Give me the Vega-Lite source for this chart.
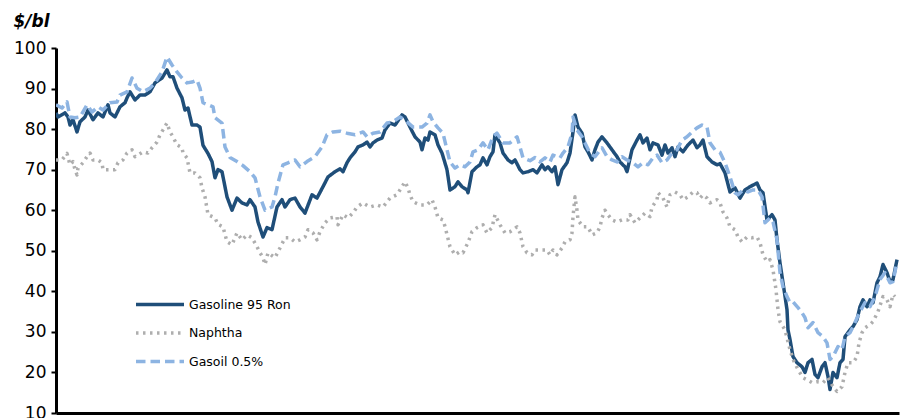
{
  "$schema": "https://vega.github.io/schema/vega-lite/v6.json",
  "width": 843,
  "height": 365,
  "autosize": {"type": "none"},
  "padding": {"left": 56, "top": 48, "right": 2, "bottom": 5},
  "background": "white",
  "config": {"view": {"stroke": null}, "font": "DejaVu Sans"},
  "data": {"values": [
    {"series":"Gasoline 95 Ron","day":0,"price":84},{"series":"Gasoline 95 Ron","day":2,"price":83},{"series":"Gasoline 95 Ron","day":9,"price":84},{"series":"Gasoline 95 Ron","day":12,"price":83},{"series":"Gasoline 95 Ron","day":14,"price":81},{"series":"Gasoline 95 Ron","day":17,"price":82.3},{"series":"Gasoline 95 Ron","day":21,"price":79.3},{"series":"Gasoline 95 Ron","day":24,"price":81.8},{"series":"Gasoline 95 Ron","day":29,"price":83},{"series":"Gasoline 95 Ron","day":32,"price":84.7},{"series":"Gasoline 95 Ron","day":37,"price":82.3},{"series":"Gasoline 95 Ron","day":42,"price":84},{"series":"Gasoline 95 Ron","day":47,"price":83},{"series":"Gasoline 95 Ron","day":52,"price":86},{"series":"Gasoline 95 Ron","day":54,"price":84},{"series":"Gasoline 95 Ron","day":59,"price":83},{"series":"Gasoline 95 Ron","day":64,"price":85.5},{"series":"Gasoline 95 Ron","day":69,"price":86.5},{"series":"Gasoline 95 Ron","day":71,"price":87.7},{"series":"Gasoline 95 Ron","day":74,"price":89.2},{"series":"Gasoline 95 Ron","day":79,"price":87.2},{"series":"Gasoline 95 Ron","day":84,"price":88.4},{"series":"Gasoline 95 Ron","day":89,"price":88.4},{"series":"Gasoline 95 Ron","day":94,"price":89.2},{"series":"Gasoline 95 Ron","day":99,"price":91.4},{"series":"Gasoline 95 Ron","day":106,"price":92.6},{"series":"Gasoline 95 Ron","day":111,"price":94.6},{"series":"Gasoline 95 Ron","day":114,"price":92.9},{"series":"Gasoline 95 Ron","day":117,"price":92.9},{"series":"Gasoline 95 Ron","day":121,"price":90.1},{"series":"Gasoline 95 Ron","day":126,"price":87.7},{"series":"Gasoline 95 Ron","day":129,"price":84.7},{"series":"Gasoline 95 Ron","day":132,"price":85.2},{"series":"Gasoline 95 Ron","day":136,"price":81},{"series":"Gasoline 95 Ron","day":141,"price":81},{"series":"Gasoline 95 Ron","day":144,"price":80.5},{"series":"Gasoline 95 Ron","day":147,"price":76},{"series":"Gasoline 95 Ron","day":152,"price":74},{"series":"Gasoline 95 Ron","day":156,"price":72},{"series":"Gasoline 95 Ron","day":159,"price":68},{"series":"Gasoline 95 Ron","day":162,"price":70},{"series":"Gasoline 95 Ron","day":166,"price":69.5},{"series":"Gasoline 95 Ron","day":171,"price":63.3},{"series":"Gasoline 95 Ron","day":176,"price":60},{"series":"Gasoline 95 Ron","day":181,"price":63},{"series":"Gasoline 95 Ron","day":186,"price":61.8},{"series":"Gasoline 95 Ron","day":191,"price":61.3},{"series":"Gasoline 95 Ron","day":194,"price":62.6},{"series":"Gasoline 95 Ron","day":199,"price":60.8},{"series":"Gasoline 95 Ron","day":202,"price":57.1},{"series":"Gasoline 95 Ron","day":207,"price":53.4},{"series":"Gasoline 95 Ron","day":211,"price":55.7},{"series":"Gasoline 95 Ron","day":216,"price":55.2},{"series":"Gasoline 95 Ron","day":221,"price":60.8},{"series":"Gasoline 95 Ron","day":226,"price":62.6},{"series":"Gasoline 95 Ron","day":229,"price":60.8},{"series":"Gasoline 95 Ron","day":234,"price":62.6},{"series":"Gasoline 95 Ron","day":239,"price":63},{"series":"Gasoline 95 Ron","day":244,"price":60.8},{"series":"Gasoline 95 Ron","day":249,"price":59.3},{"series":"Gasoline 95 Ron","day":256,"price":63.8},{"series":"Gasoline 95 Ron","day":261,"price":63},{"series":"Gasoline 95 Ron","day":267,"price":65.8},{"series":"Gasoline 95 Ron","day":272,"price":68.2},{"series":"Gasoline 95 Ron","day":279,"price":69.5},{"series":"Gasoline 95 Ron","day":284,"price":70.2},{"series":"Gasoline 95 Ron","day":287,"price":69.5},{"series":"Gasoline 95 Ron","day":291,"price":71.7},{"series":"Gasoline 95 Ron","day":294,"price":72.9},{"series":"Gasoline 95 Ron","day":299,"price":74.4},{"series":"Gasoline 95 Ron","day":302,"price":75.6},{"series":"Gasoline 95 Ron","day":307,"price":76.1},{"series":"Gasoline 95 Ron","day":311,"price":76.8},{"series":"Gasoline 95 Ron","day":314,"price":75.6},{"series":"Gasoline 95 Ron","day":317,"price":76.6},{"series":"Gasoline 95 Ron","day":321,"price":77.3},{"series":"Gasoline 95 Ron","day":326,"price":77.8},{"series":"Gasoline 95 Ron","day":329,"price":79.8},{"series":"Gasoline 95 Ron","day":334,"price":81.5},{"series":"Gasoline 95 Ron","day":339,"price":81},{"series":"Gasoline 95 Ron","day":346,"price":83.5},{"series":"Gasoline 95 Ron","day":349,"price":83},{"series":"Gasoline 95 Ron","day":354,"price":80.5},{"series":"Gasoline 95 Ron","day":359,"price":78.1},{"series":"Gasoline 95 Ron","day":364,"price":76.8},{"series":"Gasoline 95 Ron","day":366,"price":74.9},{"series":"Gasoline 95 Ron","day":369,"price":77.8},{"series":"Gasoline 95 Ron","day":372,"price":77.3},{"series":"Gasoline 95 Ron","day":374,"price":79.3},{"series":"Gasoline 95 Ron","day":379,"price":78.6},{"series":"Gasoline 95 Ron","day":382,"price":76.1},{"series":"Gasoline 95 Ron","day":386,"price":74.1},{"series":"Gasoline 95 Ron","day":391,"price":70},{"series":"Gasoline 95 Ron","day":394,"price":65},{"series":"Gasoline 95 Ron","day":399,"price":65.8},{"series":"Gasoline 95 Ron","day":402,"price":67},{"series":"Gasoline 95 Ron","day":406,"price":65.8},{"series":"Gasoline 95 Ron","day":411,"price":65},{"series":"Gasoline 95 Ron","day":412,"price":64.3},{"series":"Gasoline 95 Ron","day":416,"price":69.5},{"series":"Gasoline 95 Ron","day":421,"price":70.7},{"series":"Gasoline 95 Ron","day":424,"price":71.2},{"series":"Gasoline 95 Ron","day":427,"price":72.9},{"series":"Gasoline 95 Ron","day":431,"price":71.2},{"series":"Gasoline 95 Ron","day":434,"price":73.2},{"series":"Gasoline 95 Ron","day":437,"price":74.4},{"series":"Gasoline 95 Ron","day":439,"price":78.6},{"series":"Gasoline 95 Ron","day":444,"price":76.6},{"series":"Gasoline 95 Ron","day":447,"price":74.1},{"series":"Gasoline 95 Ron","day":452,"price":72.4},{"series":"Gasoline 95 Ron","day":456,"price":71.7},{"series":"Gasoline 95 Ron","day":459,"price":72.4},{"series":"Gasoline 95 Ron","day":464,"price":70},{"series":"Gasoline 95 Ron","day":467,"price":69.2},{"series":"Gasoline 95 Ron","day":472,"price":69.5},{"series":"Gasoline 95 Ron","day":477,"price":70},{"series":"Gasoline 95 Ron","day":481,"price":69.2},{"series":"Gasoline 95 Ron","day":486,"price":71.2},{"series":"Gasoline 95 Ron","day":489,"price":70},{"series":"Gasoline 95 Ron","day":492,"price":70.7},{"series":"Gasoline 95 Ron","day":496,"price":69.5},{"series":"Gasoline 95 Ron","day":499,"price":70.7},{"series":"Gasoline 95 Ron","day":502,"price":66.3},{"series":"Gasoline 95 Ron","day":506,"price":70},{"series":"Gasoline 95 Ron","day":511,"price":71.7},{"series":"Gasoline 95 Ron","day":514,"price":74.1},{"series":"Gasoline 95 Ron","day":517,"price":79.3},{"series":"Gasoline 95 Ron","day":519,"price":83.5},{"series":"Gasoline 95 Ron","day":522,"price":80.5},{"series":"Gasoline 95 Ron","day":526,"price":79},{"series":"Gasoline 95 Ron","day":529,"price":75.6},{"series":"Gasoline 95 Ron","day":532,"price":74.4},{"series":"Gasoline 95 Ron","day":536,"price":72.4},{"series":"Gasoline 95 Ron","day":539,"price":74.9},{"series":"Gasoline 95 Ron","day":542,"price":76.8},{"series":"Gasoline 95 Ron","day":546,"price":78.1},{"series":"Gasoline 95 Ron","day":551,"price":76.6},{"series":"Gasoline 95 Ron","day":556,"price":74.9},{"series":"Gasoline 95 Ron","day":561,"price":73.2},{"series":"Gasoline 95 Ron","day":564,"price":71.9},{"series":"Gasoline 95 Ron","day":569,"price":70.7},{"series":"Gasoline 95 Ron","day":571,"price":69.5},{"series":"Gasoline 95 Ron","day":576,"price":74.9},{"series":"Gasoline 95 Ron","day":581,"price":77.3},{"series":"Gasoline 95 Ron","day":584,"price":78.6},{"series":"Gasoline 95 Ron","day":587,"price":76.6},{"series":"Gasoline 95 Ron","day":591,"price":77.8},{"series":"Gasoline 95 Ron","day":594,"price":74.9},{"series":"Gasoline 95 Ron","day":597,"price":76.6},{"series":"Gasoline 95 Ron","day":602,"price":76.1},{"series":"Gasoline 95 Ron","day":606,"price":73.6},{"series":"Gasoline 95 Ron","day":609,"price":76.1},{"series":"Gasoline 95 Ron","day":612,"price":74.1},{"series":"Gasoline 95 Ron","day":616,"price":75.4},{"series":"Gasoline 95 Ron","day":619,"price":73.2},{"series":"Gasoline 95 Ron","day":622,"price":75.6},{"series":"Gasoline 95 Ron","day":627,"price":74.4},{"series":"Gasoline 95 Ron","day":632,"price":76.1},{"series":"Gasoline 95 Ron","day":637,"price":77.3},{"series":"Gasoline 95 Ron","day":641,"price":75.4},{"series":"Gasoline 95 Ron","day":644,"price":76.1},{"series":"Gasoline 95 Ron","day":647,"price":77.3},{"series":"Gasoline 95 Ron","day":651,"price":73.2},{"series":"Gasoline 95 Ron","day":656,"price":71.9},{"series":"Gasoline 95 Ron","day":661,"price":71.2},{"series":"Gasoline 95 Ron","day":664,"price":71.5},{"series":"Gasoline 95 Ron","day":669,"price":69.2},{"series":"Gasoline 95 Ron","day":674,"price":64.5},{"series":"Gasoline 95 Ron","day":679,"price":65.5},{"series":"Gasoline 95 Ron","day":684,"price":63},{"series":"Gasoline 95 Ron","day":689,"price":65},{"series":"Gasoline 95 Ron","day":694,"price":65.8},{"series":"Gasoline 95 Ron","day":701,"price":66.7},{"series":"Gasoline 95 Ron","day":704,"price":65},{"series":"Gasoline 95 Ron","day":707,"price":64.3},{"series":"Gasoline 95 Ron","day":711,"price":57.6},{"series":"Gasoline 95 Ron","day":716,"price":58.9},{"series":"Gasoline 95 Ron","day":719,"price":57.6},{"series":"Gasoline 95 Ron","day":721,"price":52.7},{"series":"Gasoline 95 Ron","day":724,"price":47},{"series":"Gasoline 95 Ron","day":727,"price":42.1},{"series":"Gasoline 95 Ron","day":731,"price":35.5},{"series":"Gasoline 95 Ron","day":732,"price":30.5},{"series":"Gasoline 95 Ron","day":734,"price":28.1},{"series":"Gasoline 95 Ron","day":737,"price":23.9},{"series":"Gasoline 95 Ron","day":741,"price":22.4},{"series":"Gasoline 95 Ron","day":746,"price":21.4},{"series":"Gasoline 95 Ron","day":749,"price":20},{"series":"Gasoline 95 Ron","day":752,"price":22.4},{"series":"Gasoline 95 Ron","day":756,"price":23.2},{"series":"Gasoline 95 Ron","day":759,"price":19.5},{"series":"Gasoline 95 Ron","day":762,"price":18.7},{"series":"Gasoline 95 Ron","day":766,"price":21.4},{"series":"Gasoline 95 Ron","day":769,"price":22.4},{"series":"Gasoline 95 Ron","day":772,"price":19},{"series":"Gasoline 95 Ron","day":774,"price":15.8},{"series":"Gasoline 95 Ron","day":777,"price":20},{"series":"Gasoline 95 Ron","day":781,"price":18.7},{"series":"Gasoline 95 Ron","day":784,"price":22.4},{"series":"Gasoline 95 Ron","day":787,"price":23.2},{"series":"Gasoline 95 Ron","day":789,"price":28.8},{"series":"Gasoline 95 Ron","day":794,"price":30.5},{"series":"Gasoline 95 Ron","day":797,"price":31.3},{"series":"Gasoline 95 Ron","day":801,"price":33},{"series":"Gasoline 95 Ron","day":804,"price":36.2},{"series":"Gasoline 95 Ron","day":807,"price":37.9},{"series":"Gasoline 95 Ron","day":811,"price":36.2},{"series":"Gasoline 95 Ron","day":814,"price":37.9},{"series":"Gasoline 95 Ron","day":817,"price":37.2},{"series":"Gasoline 95 Ron","day":821,"price":42.1},{"series":"Gasoline 95 Ron","day":824,"price":43.6},{"series":"Gasoline 95 Ron","day":827,"price":46.6},{"series":"Gasoline 95 Ron","day":831,"price":44.6},{"series":"Gasoline 95 Ron","day":834,"price":42.4},{"series":"Gasoline 95 Ron","day":837,"price":42.9},{"series":"Gasoline 95 Ron","day":841,"price":47.8},
    {"series":"Naphtha","day":0,"price":72.4},{"series":"Naphtha","day":6,"price":72.4},{"series":"Naphtha","day":11,"price":74},{"series":"Naphtha","day":14,"price":71.2},{"series":"Naphtha","day":17,"price":72},{"series":"Naphtha","day":19,"price":70},{"series":"Naphtha","day":21,"price":68.7},{"series":"Naphtha","day":22,"price":70.4},{"series":"Naphtha","day":27,"price":71.7},{"series":"Naphtha","day":31,"price":73.2},{"series":"Naphtha","day":34,"price":74.1},{"series":"Naphtha","day":37,"price":72.4},{"series":"Naphtha","day":42,"price":72.4},{"series":"Naphtha","day":46,"price":71.7},{"series":"Naphtha","day":47,"price":70},{"series":"Naphtha","day":52,"price":70},{"series":"Naphtha","day":59,"price":70},{"series":"Naphtha","day":62,"price":71.7},{"series":"Naphtha","day":67,"price":72.4},{"series":"Naphtha","day":71,"price":74.1},{"series":"Naphtha","day":76,"price":74.9},{"series":"Naphtha","day":79,"price":73.2},{"series":"Naphtha","day":82,"price":73.6},{"series":"Naphtha","day":87,"price":74.4},{"series":"Naphtha","day":92,"price":74.1},{"series":"Naphtha","day":96,"price":75.4},{"series":"Naphtha","day":101,"price":76.8},{"series":"Naphtha","day":104,"price":78.6},{"series":"Naphtha","day":107,"price":79.8},{"series":"Naphtha","day":111,"price":81.5},{"series":"Naphtha","day":114,"price":79.3},{"series":"Naphtha","day":117,"price":78.1},{"series":"Naphtha","day":121,"price":76.1},{"series":"Naphtha","day":126,"price":75.4},{"series":"Naphtha","day":127,"price":74.1},{"series":"Naphtha","day":131,"price":72.9},{"series":"Naphtha","day":134,"price":69.2},{"series":"Naphtha","day":139,"price":69.2},{"series":"Naphtha","day":144,"price":68},{"series":"Naphtha","day":146,"price":65.5},{"series":"Naphtha","day":149,"price":63.3},{"series":"Naphtha","day":152,"price":58.9},{"series":"Naphtha","day":159,"price":58.1},{"series":"Naphtha","day":162,"price":56.5},{"series":"Naphtha","day":167,"price":55.9},{"series":"Naphtha","day":171,"price":52.2},{"series":"Naphtha","day":176,"price":51.5},{"series":"Naphtha","day":181,"price":54.4},{"series":"Naphtha","day":186,"price":52.7},{"series":"Naphtha","day":191,"price":53.9},{"series":"Naphtha","day":196,"price":53.2},{"series":"Naphtha","day":201,"price":51},{"series":"Naphtha","day":204,"price":49.5},{"series":"Naphtha","day":207,"price":48.3},{"series":"Naphtha","day":209,"price":46.6},{"series":"Naphtha","day":212,"price":49.5},{"series":"Naphtha","day":219,"price":48.3},{"series":"Naphtha","day":224,"price":50.7},{"series":"Naphtha","day":229,"price":53.2},{"series":"Naphtha","day":234,"price":53.2},{"series":"Naphtha","day":239,"price":52.2},{"series":"Naphtha","day":244,"price":52.7},{"series":"Naphtha","day":249,"price":53.4},{"series":"Naphtha","day":252,"price":55.2},{"series":"Naphtha","day":257,"price":54.4},{"series":"Naphtha","day":261,"price":52.7},{"series":"Naphtha","day":264,"price":54.7},{"series":"Naphtha","day":269,"price":56.9},{"series":"Naphtha","day":274,"price":58.1},{"series":"Naphtha","day":281,"price":58.4},{"series":"Naphtha","day":282,"price":56.4},{"series":"Naphtha","day":287,"price":58.9},{"series":"Naphtha","day":292,"price":58.1},{"series":"Naphtha","day":297,"price":59.3},{"series":"Naphtha","day":301,"price":60.8},{"series":"Naphtha","day":307,"price":61.8},{"series":"Naphtha","day":314,"price":60.8},{"series":"Naphtha","day":321,"price":61.3},{"series":"Naphtha","day":327,"price":60.8},{"series":"Naphtha","day":334,"price":63},{"series":"Naphtha","day":341,"price":63.8},{"series":"Naphtha","day":346,"price":65.8},{"series":"Naphtha","day":349,"price":67},{"series":"Naphtha","day":352,"price":65.5},{"series":"Naphtha","day":354,"price":63.8},{"series":"Naphtha","day":357,"price":62.1},{"series":"Naphtha","day":364,"price":61.3},{"series":"Naphtha","day":371,"price":61.3},{"series":"Naphtha","day":376,"price":62.6},{"series":"Naphtha","day":379,"price":60.8},{"series":"Naphtha","day":382,"price":58.1},{"series":"Naphtha","day":387,"price":57.6},{"series":"Naphtha","day":389,"price":56},{"series":"Naphtha","day":392,"price":53},{"series":"Naphtha","day":394,"price":51},{"series":"Naphtha","day":399,"price":49},{"series":"Naphtha","day":404,"price":49.8},{"series":"Naphtha","day":407,"price":49.5},{"series":"Naphtha","day":412,"price":52},{"series":"Naphtha","day":416,"price":54.7},{"series":"Naphtha","day":421,"price":55.7},{"series":"Naphtha","day":427,"price":56.4},{"series":"Naphtha","day":431,"price":54.4},{"series":"Naphtha","day":436,"price":55.7},{"series":"Naphtha","day":439,"price":58.9},{"series":"Naphtha","day":444,"price":56.4},{"series":"Naphtha","day":449,"price":54.4},{"series":"Naphtha","day":454,"price":54.7},{"series":"Naphtha","day":461,"price":55.9},{"series":"Naphtha","day":464,"price":54.4},{"series":"Naphtha","day":467,"price":51},{"series":"Naphtha","day":471,"price":49.5},{"series":"Naphtha","day":476,"price":49},{"series":"Naphtha","day":479,"price":50.2},{"series":"Naphtha","day":486,"price":50.2},{"series":"Naphtha","day":491,"price":50.2},{"series":"Naphtha","day":494,"price":49},{"series":"Naphtha","day":497,"price":50.2},{"series":"Naphtha","day":501,"price":49},{"series":"Naphtha","day":506,"price":50.7},{"series":"Naphtha","day":509,"price":52.2},{"series":"Naphtha","day":514,"price":52.7},{"series":"Naphtha","day":516,"price":54.4},{"series":"Naphtha","day":517,"price":58.4},{"series":"Naphtha","day":519,"price":63.3},{"series":"Naphtha","day":521,"price":60},{"series":"Naphtha","day":522,"price":57.6},{"series":"Naphtha","day":527,"price":55.9},{"series":"Naphtha","day":532,"price":55.9},{"series":"Naphtha","day":536,"price":53.9},{"series":"Naphtha","day":541,"price":54.4},{"series":"Naphtha","day":544,"price":55.9},{"series":"Naphtha","day":546,"price":58.1},{"series":"Naphtha","day":549,"price":60},{"series":"Naphtha","day":552,"price":58.9},{"series":"Naphtha","day":556,"price":57.6},{"series":"Naphtha","day":561,"price":57.1},{"series":"Naphtha","day":566,"price":57.6},{"series":"Naphtha","day":572,"price":57.6},{"series":"Naphtha","day":574,"price":58.9},{"series":"Naphtha","day":579,"price":56.9},{"series":"Naphtha","day":584,"price":58.1},{"series":"Naphtha","day":589,"price":59.3},{"series":"Naphtha","day":594,"price":58.4},{"series":"Naphtha","day":596,"price":60.8},{"series":"Naphtha","day":601,"price":62.6},{"series":"Naphtha","day":602,"price":64.3},{"series":"Naphtha","day":607,"price":63},{"series":"Naphtha","day":611,"price":60.8},{"series":"Naphtha","day":614,"price":63.8},{"series":"Naphtha","day":619,"price":64.5},{"series":"Naphtha","day":624,"price":63.8},{"series":"Naphtha","day":627,"price":62.6},{"series":"Naphtha","day":632,"price":63.3},{"series":"Naphtha","day":637,"price":64.5},{"series":"Naphtha","day":641,"price":64.3},{"series":"Naphtha","day":644,"price":63},{"series":"Naphtha","day":647,"price":63.8},{"series":"Naphtha","day":651,"price":63},{"series":"Naphtha","day":654,"price":61.8},{"series":"Naphtha","day":661,"price":62.6},{"series":"Naphtha","day":664,"price":61.8},{"series":"Naphtha","day":667,"price":59.6},{"series":"Naphtha","day":671,"price":58.1},{"series":"Naphtha","day":674,"price":55.9},{"series":"Naphtha","day":679,"price":55.2},{"series":"Naphtha","day":682,"price":53.4},{"series":"Naphtha","day":686,"price":52.2},{"series":"Naphtha","day":691,"price":53.4},{"series":"Naphtha","day":696,"price":53.2},{"series":"Naphtha","day":701,"price":53.4},{"series":"Naphtha","day":704,"price":52},{"series":"Naphtha","day":707,"price":49},{"series":"Naphtha","day":711,"price":47.3},{"series":"Naphtha","day":714,"price":47.8},{"series":"Naphtha","day":717,"price":45.3},{"series":"Naphtha","day":720,"price":40.4},{"series":"Naphtha","day":722,"price":35.5},{"series":"Naphtha","day":724,"price":32.5},{"series":"Naphtha","day":729,"price":30.5},{"series":"Naphtha","day":734,"price":25.6},{"series":"Naphtha","day":737,"price":23.2},{"series":"Naphtha","day":742,"price":20.7},{"series":"Naphtha","day":747,"price":18.7},{"series":"Naphtha","day":751,"price":18.2},{"series":"Naphtha","day":756,"price":17.5},{"series":"Naphtha","day":761,"price":17.7},{"series":"Naphtha","day":767,"price":17.5},{"series":"Naphtha","day":772,"price":18.7},{"series":"Naphtha","day":777,"price":16.5},{"series":"Naphtha","day":781,"price":15.3},{"series":"Naphtha","day":786,"price":16.5},{"series":"Naphtha","day":789,"price":20},{"series":"Naphtha","day":792,"price":22.4},{"series":"Naphtha","day":797,"price":22.4},{"series":"Naphtha","day":801,"price":23.9},{"series":"Naphtha","day":803,"price":27.3},{"series":"Naphtha","day":806,"price":29.8},{"series":"Naphtha","day":809,"price":31},{"series":"Naphtha","day":814,"price":31.8},{"series":"Naphtha","day":817,"price":32.5},{"series":"Naphtha","day":822,"price":35},{"series":"Naphtha","day":827,"price":38.7},{"series":"Naphtha","day":831,"price":37.9},{"series":"Naphtha","day":834,"price":36.2},{"series":"Naphtha","day":837,"price":39.2},{"series":"Naphtha","day":839,"price":38.7},
    {"series":"Gasoil 0.5%","day":0,"price":86},{"series":"Gasoil 0.5%","day":6,"price":85.2},{"series":"Gasoil 0.5%","day":11,"price":86.7},{"series":"Gasoil 0.5%","day":14,"price":83},{"series":"Gasoil 0.5%","day":19,"price":82.8},{"series":"Gasoil 0.5%","day":24,"price":83},{"series":"Gasoil 0.5%","day":31,"price":86},{"series":"Gasoil 0.5%","day":36,"price":84.2},{"series":"Gasoil 0.5%","day":42,"price":85.5},{"series":"Gasoil 0.5%","day":47,"price":84.7},{"series":"Gasoil 0.5%","day":54,"price":86.5},{"series":"Gasoil 0.5%","day":61,"price":86.7},{"series":"Gasoil 0.5%","day":64,"price":88.4},{"series":"Gasoil 0.5%","day":71,"price":89.2},{"series":"Gasoil 0.5%","day":76,"price":92.6},{"series":"Gasoil 0.5%","day":81,"price":90.1},{"series":"Gasoil 0.5%","day":87,"price":89.2},{"series":"Gasoil 0.5%","day":94,"price":90.1},{"series":"Gasoil 0.5%","day":99,"price":91.4},{"series":"Gasoil 0.5%","day":106,"price":94.1},{"series":"Gasoil 0.5%","day":111,"price":97.8},{"series":"Gasoil 0.5%","day":116,"price":95.8},{"series":"Gasoil 0.5%","day":121,"price":94.1},{"series":"Gasoil 0.5%","day":126,"price":92.6},{"series":"Gasoil 0.5%","day":131,"price":91.4},{"series":"Gasoil 0.5%","day":136,"price":91.6},{"series":"Gasoil 0.5%","day":141,"price":92.1},{"series":"Gasoil 0.5%","day":144,"price":90.1},{"series":"Gasoil 0.5%","day":147,"price":86.5},{"series":"Gasoil 0.5%","day":152,"price":86},{"series":"Gasoil 0.5%","day":157,"price":85.5},{"series":"Gasoil 0.5%","day":159,"price":82.8},{"series":"Gasoil 0.5%","day":166,"price":81.5},{"series":"Gasoil 0.5%","day":169,"price":75.6},{"series":"Gasoil 0.5%","day":174,"price":73},{"series":"Gasoil 0.5%","day":181,"price":72},{"series":"Gasoil 0.5%","day":187,"price":71},{"series":"Gasoil 0.5%","day":194,"price":69.5},{"series":"Gasoil 0.5%","day":199,"price":68},{"series":"Gasoil 0.5%","day":204,"price":63.3},{"series":"Gasoil 0.5%","day":209,"price":60},{"series":"Gasoil 0.5%","day":216,"price":60.8},{"series":"Gasoil 0.5%","day":219,"price":63.3},{"series":"Gasoil 0.5%","day":222,"price":66.7},{"series":"Gasoil 0.5%","day":227,"price":71.2},{"series":"Gasoil 0.5%","day":232,"price":71.7},{"series":"Gasoil 0.5%","day":239,"price":72.4},{"series":"Gasoil 0.5%","day":244,"price":70.7},{"series":"Gasoil 0.5%","day":251,"price":72},{"series":"Gasoil 0.5%","day":259,"price":73.2},{"series":"Gasoil 0.5%","day":266,"price":75.6},{"series":"Gasoil 0.5%","day":271,"price":78.6},{"series":"Gasoil 0.5%","day":277,"price":79.3},{"series":"Gasoil 0.5%","day":284,"price":79.5},{"series":"Gasoil 0.5%","day":291,"price":79},{"series":"Gasoil 0.5%","day":299,"price":78.6},{"series":"Gasoil 0.5%","day":307,"price":79.3},{"series":"Gasoil 0.5%","day":311,"price":78.1},{"series":"Gasoil 0.5%","day":317,"price":79},{"series":"Gasoil 0.5%","day":324,"price":79.3},{"series":"Gasoil 0.5%","day":331,"price":81.5},{"series":"Gasoil 0.5%","day":337,"price":81.8},{"series":"Gasoil 0.5%","day":344,"price":83},{"series":"Gasoil 0.5%","day":351,"price":81.8},{"series":"Gasoil 0.5%","day":357,"price":80.5},{"series":"Gasoil 0.5%","day":366,"price":80.5},{"series":"Gasoil 0.5%","day":371,"price":81.5},{"series":"Gasoil 0.5%","day":374,"price":83.5},{"series":"Gasoil 0.5%","day":377,"price":81.8},{"series":"Gasoil 0.5%","day":382,"price":80.3},{"series":"Gasoil 0.5%","day":387,"price":79},{"series":"Gasoil 0.5%","day":391,"price":74.9},{"series":"Gasoil 0.5%","day":394,"price":71.9},{"series":"Gasoil 0.5%","day":399,"price":70.4},{"series":"Gasoil 0.5%","day":404,"price":71.2},{"series":"Gasoil 0.5%","day":409,"price":70.7},{"series":"Gasoil 0.5%","day":414,"price":71.9},{"series":"Gasoil 0.5%","day":417,"price":74.4},{"series":"Gasoil 0.5%","day":422,"price":74.9},{"series":"Gasoil 0.5%","day":427,"price":76.6},{"series":"Gasoil 0.5%","day":432,"price":74.9},{"series":"Gasoil 0.5%","day":437,"price":78.1},{"series":"Gasoil 0.5%","day":441,"price":79},{"series":"Gasoil 0.5%","day":447,"price":76.6},{"series":"Gasoil 0.5%","day":454,"price":76.6},{"series":"Gasoil 0.5%","day":461,"price":78.1},{"series":"Gasoil 0.5%","day":464,"price":75.6},{"series":"Gasoil 0.5%","day":467,"price":72.9},{"series":"Gasoil 0.5%","day":474,"price":72.2},{"series":"Gasoil 0.5%","day":479,"price":73},{"series":"Gasoil 0.5%","day":484,"price":71.9},{"series":"Gasoil 0.5%","day":489,"price":72.9},{"series":"Gasoil 0.5%","day":494,"price":71.9},{"series":"Gasoil 0.5%","day":497,"price":73.6},{"series":"Gasoil 0.5%","day":504,"price":72.9},{"series":"Gasoil 0.5%","day":507,"price":74.1},{"series":"Gasoil 0.5%","day":512,"price":75.6},{"series":"Gasoil 0.5%","day":516,"price":79},{"series":"Gasoil 0.5%","day":517,"price":83},{"series":"Gasoil 0.5%","day":521,"price":79.8},{"series":"Gasoil 0.5%","day":526,"price":78.1},{"series":"Gasoil 0.5%","day":529,"price":76.6},{"series":"Gasoil 0.5%","day":534,"price":74.1},{"series":"Gasoil 0.5%","day":539,"price":73.2},{"series":"Gasoil 0.5%","day":546,"price":75.4},{"series":"Gasoil 0.5%","day":551,"price":73.2},{"series":"Gasoil 0.5%","day":556,"price":72.4},{"series":"Gasoil 0.5%","day":561,"price":71.9},{"series":"Gasoil 0.5%","day":566,"price":73.2},{"series":"Gasoil 0.5%","day":571,"price":72.4},{"series":"Gasoil 0.5%","day":577,"price":71.7},{"series":"Gasoil 0.5%","day":582,"price":70.7},{"series":"Gasoil 0.5%","day":587,"price":71.7},{"series":"Gasoil 0.5%","day":592,"price":71.2},{"series":"Gasoil 0.5%","day":597,"price":72.9},{"series":"Gasoil 0.5%","day":601,"price":73.6},{"series":"Gasoil 0.5%","day":606,"price":71.7},{"series":"Gasoil 0.5%","day":611,"price":72.4},{"series":"Gasoil 0.5%","day":616,"price":74.1},{"series":"Gasoil 0.5%","day":621,"price":74.9},{"series":"Gasoil 0.5%","day":626,"price":77.3},{"series":"Gasoil 0.5%","day":631,"price":78.1},{"series":"Gasoil 0.5%","day":636,"price":79.3},{"series":"Gasoil 0.5%","day":641,"price":80.3},{"series":"Gasoil 0.5%","day":646,"price":81},{"series":"Gasoil 0.5%","day":651,"price":80.5},{"series":"Gasoil 0.5%","day":654,"price":76.6},{"series":"Gasoil 0.5%","day":659,"price":74.9},{"series":"Gasoil 0.5%","day":664,"price":74.3},{"series":"Gasoil 0.5%","day":669,"price":71.7},{"series":"Gasoil 0.5%","day":674,"price":68.2},{"series":"Gasoil 0.5%","day":679,"price":64.3},{"series":"Gasoil 0.5%","day":682,"price":63.8},{"series":"Gasoil 0.5%","day":687,"price":65},{"series":"Gasoil 0.5%","day":692,"price":64.5},{"series":"Gasoil 0.5%","day":697,"price":65},{"series":"Gasoil 0.5%","day":702,"price":65},{"series":"Gasoil 0.5%","day":706,"price":63.3},{"series":"Gasoil 0.5%","day":709,"price":56.9},{"series":"Gasoil 0.5%","day":714,"price":58.1},{"series":"Gasoil 0.5%","day":717,"price":57.1},{"series":"Gasoil 0.5%","day":721,"price":52.7},{"series":"Gasoil 0.5%","day":724,"price":44.6},{"series":"Gasoil 0.5%","day":727,"price":41.1},{"series":"Gasoil 0.5%","day":731,"price":38.7},{"series":"Gasoil 0.5%","day":734,"price":37.2},{"series":"Gasoil 0.5%","day":737,"price":37.4},{"series":"Gasoil 0.5%","day":742,"price":36},{"series":"Gasoil 0.5%","day":746,"price":34.7},{"series":"Gasoil 0.5%","day":749,"price":33.5},{"series":"Gasoil 0.5%","day":752,"price":31},{"series":"Gasoil 0.5%","day":757,"price":32.3},{"series":"Gasoil 0.5%","day":762,"price":29.8},{"series":"Gasoil 0.5%","day":767,"price":28.8},{"series":"Gasoil 0.5%","day":771,"price":27.3},{"series":"Gasoil 0.5%","day":774,"price":23.2},{"series":"Gasoil 0.5%","day":777,"price":23.9},{"series":"Gasoil 0.5%","day":782,"price":26.4},{"series":"Gasoil 0.5%","day":786,"price":25.6},{"series":"Gasoil 0.5%","day":789,"price":28.8},{"series":"Gasoil 0.5%","day":794,"price":29.8},{"series":"Gasoil 0.5%","day":799,"price":32.3},{"series":"Gasoil 0.5%","day":804,"price":35},{"series":"Gasoil 0.5%","day":809,"price":37.2},{"series":"Gasoil 0.5%","day":814,"price":36.2},{"series":"Gasoil 0.5%","day":819,"price":38.7},{"series":"Gasoil 0.5%","day":824,"price":42.9},{"series":"Gasoil 0.5%","day":829,"price":44.6},{"series":"Gasoil 0.5%","day":834,"price":42.1},{"series":"Gasoil 0.5%","day":837,"price":42.4},{"series":"Gasoil 0.5%","day":841,"price":47.3}
  ]},
  "mark": {"type": "line", "clip": true, "strokeJoin": "round", "strokeWidth": 3.5},
  "encoding": {
    "x": {
      "field": "day",
      "type": "quantitative",
      "scale": {"domain": [0, 843], "nice": false, "zero": false},
      "axis": {"title": null, "labels": false, "ticks": false, "grid": false, "domainColor": "black", "domainWidth": 3}
    },
    "y": {
      "field": "price",
      "type": "quantitative",
      "scale": {"domain": [10, 100], "nice": false, "zero": false},
      "axis": {
        "values": [10, 20, 30, 40, 50, 60, 70, 80, 90, 100],
        "grid": false,
        "domainColor": "black",
        "domainWidth": 3,
        "tickColor": "black",
        "tickWidth": 2,
        "tickSize": 5,
        "labelFont": "DejaVu Sans",
        "labelFontSize": 17,
        "labelColor": "black",
        "labelPadding": 5,
        "title": "$/bl",
        "titleFont": "DejaVu Sans",
        "titleAngle": 0,
        "titleAlign": "left",
        "titleBaseline": "middle",
        "titleX": -43,
        "titleY": -27,
        "titleFontSize": 17,
        "titleFontStyle": "italic",
        "titleFontWeight": "bold",
        "titleColor": "black"
      }
    },
    "color": {
      "field": "series",
      "type": "nominal",
      "sort": ["Gasoline 95 Ron", "Naphtha", "Gasoil 0.5%"],
      "scale": {"domain": ["Gasoline 95 Ron", "Naphtha", "Gasoil 0.5%"], "range": ["#1F4E79", "#AEAEAE", "#8DB4E2"]},
      "legend": {
        "orient": "none", "legendX": 78, "legendY": 249, "title": null,
        "symbolType": "stroke", "symbolSize": 2304, "symbolStrokeWidth": 3.5,
        "labelFont": "DejaVu Sans", "labelFontSize": 12.5, "labelColor": "black",
        "labelOffset": 3, "rowPadding": 13.5, "clipHeight": 15, "padding": 0
      }
    },
    "strokeDash": {
      "field": "series",
      "type": "nominal",
      "sort": ["Gasoline 95 Ron", "Naphtha", "Gasoil 0.5%"],
      "scale": {"domain": ["Gasoline 95 Ron", "Naphtha", "Gasoil 0.5%"], "range": [[1, 0], [2.5, 4.5], [9.5, 5]]},
      "legend": {
        "orient": "none", "legendX": 78, "legendY": 249, "title": null,
        "symbolType": "stroke", "symbolSize": 2304, "symbolStrokeWidth": 3.5,
        "labelFont": "DejaVu Sans", "labelFontSize": 12.5, "labelColor": "black",
        "labelOffset": 3, "rowPadding": 13.5, "clipHeight": 15, "padding": 0
      }
    }
  }
}
